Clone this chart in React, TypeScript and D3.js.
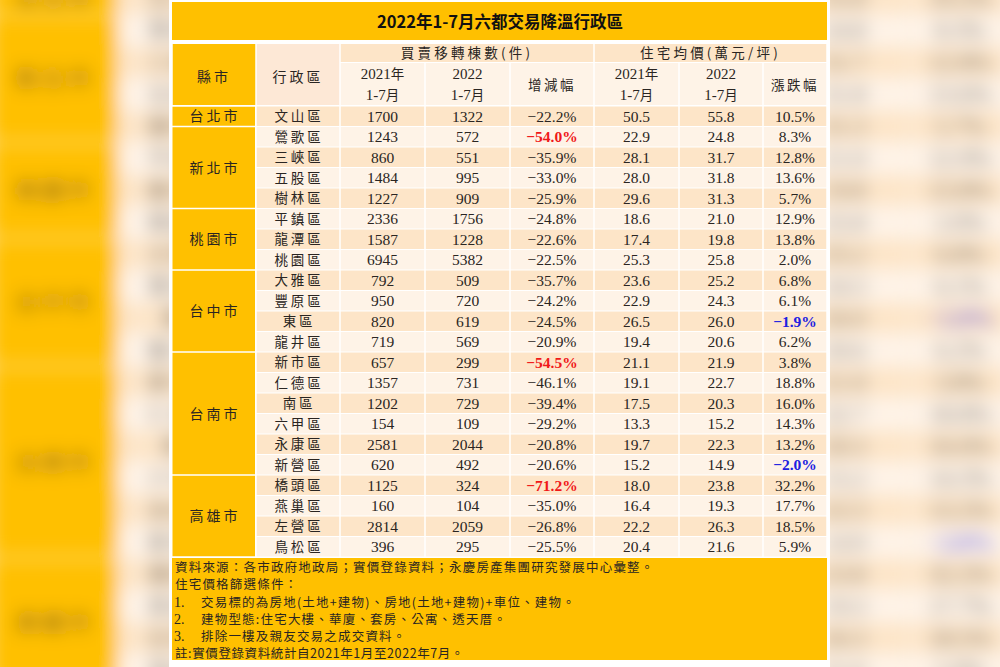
import React from "react";
import * as d3 from "d3";

const title = "2022年1-7月六都交易降溫行政區";
const cities = ["台北市", "新北市", "桃園市", "台中市", "台南市", "高雄市"];
const citySpans = [1, 4, 3, 4, 6, 4];
const districts = [
  "文山區", "鶯歌區", "三峽區", "五股區", "樹林區", "平鎮區", "龍潭區", "桃園區",
  "大雅區", "豐原區", "東區", "龍井區", "新市區", "仁德區", "南區", "六甲區",
  "永康區", "新營區", "橋頭區", "燕巢區", "左營區", "鳥松區",
];
const counts2021 = [1700, 1243, 860, 1484, 1227, 2336, 1587, 6945, 792, 950, 820, 719, 657, 1357, 1202, 154, 2581, 620, 1125, 160, 2814, 396];
const counts2022 = [1322, 572, 551, 995, 909, 1756, 1228, 5382, 509, 720, 619, 569, 299, 731, 729, 109, 2044, 492, 324, 104, 2059, 295];
const countChange = [-22.2, -54.0, -35.9, -33.0, -25.9, -24.8, -22.6, -22.5, -35.7, -24.2, -24.5, -20.9, -54.5, -46.1, -39.4, -29.2, -20.8, -20.6, -71.2, -35.0, -26.8, -25.5];
const price2021 = [50.5, 22.9, 28.1, 28.0, 29.6, 18.6, 17.4, 25.3, 23.6, 22.9, 26.5, 19.4, 21.1, 19.1, 17.5, 13.3, 19.7, 15.2, 18.0, 16.4, 22.2, 20.4];
const price2022 = [55.8, 24.8, 31.7, 31.8, 31.3, 21.0, 19.8, 25.8, 25.2, 24.3, 26.0, 20.6, 21.9, 22.7, 20.3, 15.2, 22.3, 14.9, 23.8, 19.3, 26.3, 21.6];
const priceChange = [10.5, 8.3, 12.8, 13.6, 5.7, 12.9, 13.8, 2.0, 6.8, 6.1, -1.9, 6.2, 3.8, 18.8, 16.0, 14.3, 13.2, -2.0, 32.2, 17.7, 18.5, 5.9];

const headCity = "縣市";
const headDistrict = "行政區";
const groupHeads = ["買賣移轉棟數(件)", "住宅均價(萬元/坪)"];
const yearHeads = [["2021年", "1-7月"], ["2022", "1-7月"]];
const changeHeads = ["增減幅", "漲跌幅"];

const notes = [
  "資料來源：各市政府地政局；實價登錄資料；永慶房產集團研究發展中心彙整。",
  "住宅價格篩選條件：",
];
const conditions = [
  "交易標的為房地(土地+建物)、房地(土地+建物)+車位、建物。",
  "建物型態:住宅大樓、華廈、套房、公寓、透天厝。",
  "排除一樓及親友交易之成交資料。",
];
const footNote = "註:實價登錄資料統計自2021年1月至2022年7月。";

const YELLOW = "#FFC000";
const DARK = "#FDE5C8";
const LIGHT = "#FEF3E7";
const HEADPEACH = "#FDE8D6";
const TXT = "#2a2522";
const CJK = "'Noto Sans CJK TC', 'Noto Sans CJK SC', sans-serif";
const NUM = "'Liberation Serif', 'DejaVu Serif', serif";

const edges = [172, 256, 340, 425, 510, 594, 679, 763, 827];
const cx = (i: number) => (edges[i] + edges[i + 1]) / 2;

const pct = (v: number) => d3.format(".1f")(v) + "%";
const one = d3.format(".1f");

const Table = () => {
  const y = d3.scaleBand<number>().domain(d3.range(districts.length)).range([106, 557]);
  const bw = y.bandwidth();
  const starts = d3.cumsum([0, ...citySpans]);

  const cell = (i: number, y0: number, h: number, fill: string, key: string) => (
    <rect key={key} x={edges[i] + 0.75} y={y0 + 0.5} width={edges[i + 1] - edges[i] - 1.5} height={h - 1} fill={fill} />
  );

  const columns = [
    (r: number) => String(counts2021[r]),
    (r: number) => String(counts2022[r]),
    (r: number) => pct(countChange[r]),
    (r: number) => one(price2021[r]),
    (r: number) => one(price2022[r]),
    (r: number) => pct(priceChange[r]),
  ];
  const colorOf = (c: number, r: number) => {
    if (c === 2 && countChange[r] <= -50) return "#f01818";
    if (c === 5 && priceChange[r] < 0) return "#2020e0";
    return TXT;
  };

  return (
    <g>
      {/* title band */}
      <rect x={172} y={2} width={655} height={38} fill={YELLOW} />
      <text x={500} y={28} textAnchor="middle" fontFamily={CJK} fontWeight={700} fontSize={16.5} fill="#111">
        {title}
      </text>

      {/* header */}
      {cell(0, 43.5, 62, YELLOW, "hc")}
      {cell(1, 43.5, 62, HEADPEACH, "hd")}
      {[2, 5].map((c, g) => (
        <g key={"g" + g}>
          <rect x={edges[c] + 0.75} y={44} width={edges[c + 3] - edges[c] - 1.5} height={18} fill={DARK} />
          <text x={(edges[c] + edges[c + 3]) / 2} y={58} textAnchor="middle" fontFamily={CJK} fontSize={13.5} letterSpacing={3.2} fill={TXT}>
            {groupHeads[g]}
          </text>
          {[0, 1, 2].map((k) => (
            <rect key={k} x={edges[c + k] + 0.75} y={63} width={edges[c + k + 1] - edges[c + k] - 1.5} height={42} fill={LIGHT} />
          ))}
          {yearHeads.map((yh, k) => (
            <g key={"y" + k}>
              <text x={cx(c + k)} y={79} textAnchor="middle" fontFamily={NUM} fontSize={15} fill={TXT}>
                {yh[0].replace("年", "")}
                {yh[0].includes("年") && <tspan fontFamily={CJK} fontSize={13.5}>年</tspan>}
              </text>
              <text x={cx(c + k)} y={100} textAnchor="middle" fontFamily={NUM} fontSize={15} fill={TXT}>
                1-7<tspan fontFamily={CJK} fontSize={13.5}>月</tspan>
              </text>
            </g>
          ))}
          <text x={cx(c + 2)} y={90} textAnchor="middle" fontFamily={CJK} fontSize={13.5} letterSpacing={2.5} fill={TXT}>
            {changeHeads[g]}
          </text>
        </g>
      ))}
      <text x={cx(0)} y={82} textAnchor="middle" fontFamily={CJK} fontSize={14} letterSpacing={3} fill={TXT}>{headCity}</text>
      <text x={cx(1)} y={82} textAnchor="middle" fontFamily={CJK} fontSize={14} letterSpacing={3} fill={TXT}>{headDistrict}</text>

      {/* data rows */}
      {districts.map((d, r) => (
        <g key={d}>
          {d3.range(1, 8).map((c) => cell(c, y(r)!, bw, r % 2 === 0 ? DARK : LIGHT, d + c))}
          <text x={cx(1) + 1} y={y(r)! + bw / 2 + 5} textAnchor="middle" fontFamily={CJK} fontSize={13.5} letterSpacing={2.8} fill={TXT}>
            {d}
          </text>
          {columns.map((f, c) => (
            <text
              key={c}
              x={cx(c + 2)}
              y={y(r)! + bw / 2 + 5.5}
              textAnchor="middle"
              fontFamily={NUM}
              fontSize={15.5}
              fontWeight={colorOf(c, r) === TXT ? 400 : 700}
              fill={colorOf(c, r)}
            >
              {f(r)}
            </text>
          ))}
        </g>
      ))}

      {/* city cells */}
      {cities.map((name, i) => {
        const y0 = y(starts[i])!;
        const h = bw * citySpans[i];
        return (
          <g key={name}>
            <rect x={edges[0] + 0.5} y={y0 + 0.75} width={edges[1] - edges[0] - 1.5} height={h - 1.5} fill={YELLOW} />
            <text x={cx(0) + 1} y={y0 + h / 2 + 5} textAnchor="middle" fontFamily={CJK} fontSize={14} letterSpacing={3} fill={TXT}>
              {name}
            </text>
          </g>
        );
      })}

      {/* footer */}
      <rect x={172} y={558} width={655} height={102} fill={YELLOW} />
      {notes.map((n, i) => (
        <text key={n} x={175} y={572 + i * 17} fontFamily={CJK} fontSize={12.5} letterSpacing={1.2} fill={TXT}>{n}</text>
      ))}
      {conditions.map((n, i) => (
        <g key={n}>
          <text x={174} y={607 + i * 17} fontFamily={NUM} fontSize={14} fill={TXT}>{i + 1}.</text>
          <text x={201} y={607 + i * 17} fontFamily={CJK} fontSize={12.5} letterSpacing={1.2} fill={TXT}>{n}</text>
        </g>
      ))}
      <text x={175} y={658} fontFamily={CJK} fontSize={12.5} letterSpacing={0.6} fill={TXT}>{footNote}</text>
    </g>
  );
};

export default function App() {
  return (
    <svg width={1000} height={667} style={{ position: "fixed", left: 0, top: 0, background: "#fff" }}>
      <defs>
        <filter id="bgblur" x="-10%" y="-10%" width="120%" height="120%">
          <feGaussianBlur stdDeviation={9} />
        </filter>
      </defs>
      <rect width={1000} height={667} fill="#fdf1e4" />
      <g filter="url(#bgblur)">
        <g transform="translate(-280,-183) scale(1.56)">
          <Table />
        </g>
      </g>
      <rect x={169} y={0} width={661} height={667} fill="#fff" />
      <Table />
    </svg>
  );
}
